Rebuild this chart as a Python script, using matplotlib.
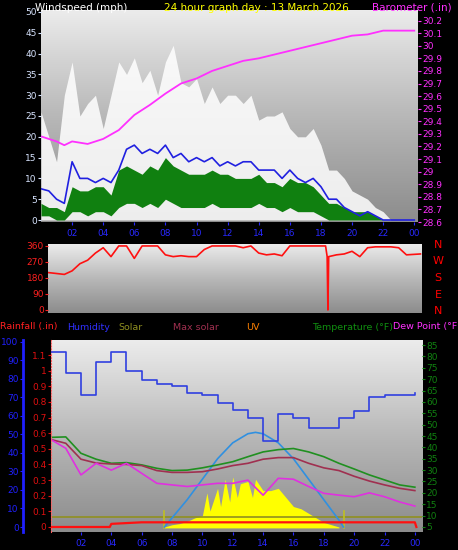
import matplotlib
matplotlib.use('Agg')
import matplotlib.pyplot as plt
import numpy as np
from matplotlib.colors import LinearSegmentedColormap

# ---------------- data ----------------
wind_t = [i * 0.5 for i in range(49)]
gust = [26, 20, 14, 30, 38, 25, 28, 30, 22, 30, 38, 35, 39, 33, 36, 30, 38, 42, 33, 32,
        34, 28, 32, 28, 30, 30, 28, 30, 24, 25, 25, 26, 22, 20, 20, 22, 18, 12, 12, 10,
        7, 6, 5, 3, 2, 0, 0, 0, 0]
avg = [7.5, 7, 5, 4, 14, 10, 10, 9, 10, 9, 12, 17, 18, 16, 17, 16, 18, 15, 16, 14,
       15, 14, 15, 13, 14, 13, 14, 14, 12, 12, 12, 10, 12, 10, 9, 10, 8, 5, 5, 3,
       2, 1, 2, 1, 0, 0, 0, 0, 0]
speed_lo = [1, 1, 0, 0, 2, 2, 1, 2, 2, 1, 3, 4, 4, 3, 4, 3, 5, 4, 3, 3,
            3, 3, 4, 3, 3, 3, 3, 3, 4, 3, 3, 2, 3, 2, 2, 2, 1, 0, 0, 0,
            0, 0, 0, 0, 0, 0, 0, 0, 0]
speed_hi = [4, 3, 3, 2, 8, 7, 7, 8, 8, 6, 12, 13, 12, 11, 13, 12, 15, 13, 12, 11,
            11, 11, 12, 11, 11, 10, 10, 10, 11, 9, 9, 8, 10, 9, 9, 8, 6, 4, 4, 3,
            2, 2, 2, 1, 0, 0, 0, 0, 0]

baro_t = [0, 1, 1.5, 2, 3, 4, 5, 6, 7, 8, 9, 10, 11, 12, 13, 14, 15, 16, 17, 18, 19, 20, 21, 22, 23, 24]
baro = [29.28, 29.24, 29.21, 29.24, 29.22, 29.26, 29.33, 29.45, 29.53, 29.62, 29.70, 29.74, 29.80,
        29.84, 29.88, 29.90, 29.93, 29.96, 29.99, 30.02, 30.05, 30.08, 30.09, 30.12, 30.12, 30.12]

dir_t = [0.5, 1, 1.5, 2, 2.5, 3, 3.5, 4, 4.5, 5, 5.5, 6, 6.5, 7, 7.5, 8, 8.5, 9, 9.5, 10, 10.5, 11,
         11.5, 12, 12.5, 13, 13.5, 14, 14.5, 15, 15.5, 16, 16.5, 17, 17.5, 18, 18.3, 18.4, 18.45,
         18.5, 19, 19.5, 20, 20.5, 21, 21.5, 22, 22.5, 23, 23.5, 24.4]
wdir = [210, 205, 200, 220, 260, 280, 320, 350, 300, 360, 360, 290, 360, 360, 360, 310, 300, 305,
        300, 300, 340, 360, 360, 360, 360, 350, 360, 320, 310, 315, 305, 360, 360, 360, 360, 360,
        360, 300, 0, 300, 310, 315, 330, 300, 350, 355, 355, 355, 350, 310, 315]

hours = list(range(25))
humidity = [94.6, 83, 71.5, 89, 94.6, 84.5, 79.5, 77, 76, 72.4, 71.5, 67, 63, 59, 46.6, 60.9,
            59, 53.5, 53.5, 59, 62.9, 70, 71.5, 71.5, 72.4]
temperature = [44.4, 44.6, 37.4, 34.8, 33, 33.3, 32.3, 30.8, 29.8, 30, 31, 32.3, 33.7, 35.9, 38,
               39, 39.5, 38, 35.9, 33, 30.5, 27.9, 25.7, 23.5, 22.5]
dewpoint = [43.5, 39.6, 27.9, 33, 30, 33, 28.6, 24.2, 23.5, 22.8, 23.5, 24.2, 24.2, 25.6, 19,
            26.4, 26, 22.8, 19.8, 19, 18.3, 20, 18.3, 16, 14.2]
apparent = [43.5, 41.8, 34.8, 33.1, 32.7, 32.5, 32, 29.8, 29, 29, 29.3, 30.5, 32, 33, 34.8,
            35.5, 35.5, 33, 31, 29.8, 27.3, 25.2, 23.5, 22, 21]

sun_t = [7.5, 8, 9, 10, 11, 12, 13, 13.5, 14, 15, 16, 17, 18, 19, 19.3]
maxsolar = [5, 9, 17, 26, 35, 42, 46, 46.6, 46, 42, 35, 26, 17, 8, 5]
solar_t = [7.5, 8, 8.5, 9, 9.5, 10, 10.3, 10.5, 11, 11.2, 11.5, 11.8, 12, 12.3, 12.5, 13, 13.3,
           13.5, 14, 14.5, 15, 15.5, 16, 16.5, 17, 17.5, 18, 18.5, 19]
solar = [5, 6, 6.5, 7.5, 9, 10, 20, 12, 22, 14, 26, 16, 27, 18, 24, 25, 18, 26, 21, 21, 22, 18,
         14, 13, 11, 9, 7, 6, 5]
rain_t = [0, 3.9, 4.0, 6.0, 24.0, 24.1]
rain = [0, 0, 0.02, 0.03, 0.03, 0]

# ---------------- figure ----------------
W, H = 458, 550
fig = plt.figure(figsize=(W / 100, H / 100), dpi=100, facecolor='black')


def axpx(l, t, r, b):
    return fig.add_axes([l / W, 1 - b / H, (r - l) / W, (b - t) / H])


grad = np.linspace(0, 1, 256).reshape(-1, 1)
cmap = LinearSegmentedColormap.from_list('g', ['#ececec', '#b8b8b8', '#8c8c8c'])


def background(ax):
    ax.imshow(grad, cmap=cmap, aspect='auto', extent=[0, 1, 0, 1], origin='upper',
              transform=ax.transAxes, zorder=0)


FS = 6.5
XBLUE = '#2828ff'

# ---- top wind panel ----
ax1 = axpx(41, 10, 418, 222)
background(ax1)
ax1.set_xlim(0, 24.24)
ax1.set_ylim(-0.48, 50.48)
ax1.fill_between(wind_t, 0, gust, color='white', alpha=0.85, lw=0, zorder=2)
ax1.fill_between(wind_t, speed_lo, speed_hi, color='#108010', lw=0, zorder=3)
ax1.plot(wind_t, avg, color='#2020e0', lw=1.2, zorder=4)
ax1.set_yticks(range(0, 51, 5))
ax1.set_xticks(range(2, 25, 2))
ax1.set_xticklabels(['%02d' % (h % 24) for h in range(2, 25, 2)])
ax1.tick_params(axis='y', colors='#d8e4ff', labelsize=FS, length=2, pad=1)
ax1.tick_params(axis='x', colors=XBLUE, labelsize=FS, length=2, pad=3)
for s in ax1.spines.values():
    s.set_visible(False)
axb = ax1.twinx()
axb.set_ylim(28.606, 30.284)
axb.plot(baro_t, baro, color='#ff30ff', lw=1.3)
bt = np.round(np.arange(28.6, 30.25, 0.1), 1)
axb.set_yticks(bt)
axb.set_yticklabels(['%g' % v for v in bt])
axb.tick_params(axis='y', colors='#ff30ff', labelsize=FS, length=2, pad=1)
for s in axb.spines.values():
    s.set_visible(False)

fig.text(35 / W, 1 - 8 / H, 'Windspeed (mph)', color='white', fontsize=7.5, va='center')
fig.text(256 / W, 1 - 8 / H, '24 hour graph day : 13 March 2026', color='yellow', fontsize=7.5,
         va='center', ha='center')
fig.text(372 / W, 1 - 8 / H, 'Barometer (.in)', color='#ff30ff', fontsize=7.5, va='center')

# ---- wind direction panel ----
ax2 = axpx(48, 244, 422, 313)
background(ax2)
ax2.set_xlim(0.45, 24.5)
ax2.set_ylim(-17, 371)
ax2.plot(dir_t, wdir, color='#ff1010', lw=1.2)
ax2.set_yticks([0, 90, 180, 270, 360])
ax2.set_xticks([])
ax2.tick_params(axis='y', colors='#ff2020', labelsize=FS, length=2, pad=1)
for s in ax2.spines.values():
    s.set_visible(False)
for i, c in enumerate('NWSEN'):
    fig.text(438 / W, 1 - (245 + 16.5 * i) / H, c, color='red', fontsize=8, ha='center',
             va='center')

# ---- legend row ----
for x, txt, col in [(0, 'Rainfall (.in)', '#ff2020'), (67, 'Humidity', '#3030ff'),
                    (118, 'Solar', '#909020'), (173, 'Max solar', '#a03050'),
                    (246, 'UV', '#ff8000'), (312, 'Temperature (°F)', '#109010'),
                    (393, 'Dew Point (°F', '#ff30ff')]:
    fig.text(x / W, 1 - 327 / H, txt, color=col, fontsize=6.8, va='center')

# ---- bottom panel ----
ax3 = axpx(50.6, 340, 422, 532)
background(ax3)
ax3.set_xlim(0, 24.47)
ax3.set_ylim(2.8, 87.2)
ax3.fill_between(solar_t, 4.6, solar, color='#ffff00', lw=0, zorder=2)
ax3.axhline(9.5, color='#909020', lw=1.2, zorder=2)
ax3.plot([7.5, 7.5], [4.6, 12], color='#c0c020', lw=1.2)
ax3.plot([19.3, 19.3], [4.6, 12], color='#c0c020', lw=1.2)
ax3.plot(sun_t, maxsolar, color='#3090e0', lw=1.2, zorder=3)
ax3.plot(hours, temperature, color='#209020', lw=1.2, zorder=4)
ax3.plot(hours, apparent, color='#a03050', lw=1.2, zorder=4)
ax3.plot(hours, dewpoint, color='#e030e0', lw=1.2, zorder=4)
ax3.yaxis.tick_right()
ax3.set_yticks(range(5, 86, 5))
ax3.set_xticks(range(2, 25, 2))
ax3.set_xticklabels(['%02d' % (h % 24) for h in range(2, 25, 2)])
ax3.tick_params(axis='y', colors='#108010', labelsize=FS, length=2, pad=1)
ax3.tick_params(axis='x', colors=XBLUE, labelsize=FS, length=2, pad=3)
for s in ax3.spines.values():
    s.set_visible(False)

axr = fig.add_axes(ax3.get_position(), sharex=ax3)
axr.patch.set_visible(False)
axr.set_ylim(-0.032, 1.196)
axr.plot(rain_t, rain, color='#ff1010', lw=1.6, zorder=5)
axr.set_yticks(np.round(np.arange(0, 1.15, 0.1), 1))
axr.set_yticklabels(['0', '0.1', '0.2', '0.3', '0.4', '0.5', '0.6', '0.7', '0.8', '0.9', '1', '1.1'])
axr.tick_params(axis='y', colors='#e01010', labelsize=FS, length=2, pad=1)
axr.tick_params(axis='x', bottom=False, labelbottom=False)
for k, s in axr.spines.items():
    s.set_visible(k == 'left')
axr.spines['left'].set_color('#ff6060')
axr.spines['left'].set_linestyle(':')

axh = fig.add_axes(ax3.get_position(), sharex=ax3)
axh.patch.set_visible(False)
axh.set_ylim(-2.7, 101)
axh.plot(hours, humidity, color='#3040e0', lw=1.2, drawstyle='steps-post', zorder=5)
axh.set_yticks(range(0, 101, 10))
axh.tick_params(axis='y', colors='#2020ff', labelsize=FS, length=2, pad=1)
axh.tick_params(axis='x', bottom=False, labelbottom=False)
for k, s in axh.spines.items():
    s.set_visible(k == 'left')
axh.spines['left'].set_position(('outward', 20))
axh.spines['left'].set_color('#2020ff')
axh.spines['left'].set_linewidth(2)

fig.savefig('out.png', dpi=100, facecolor='black')
